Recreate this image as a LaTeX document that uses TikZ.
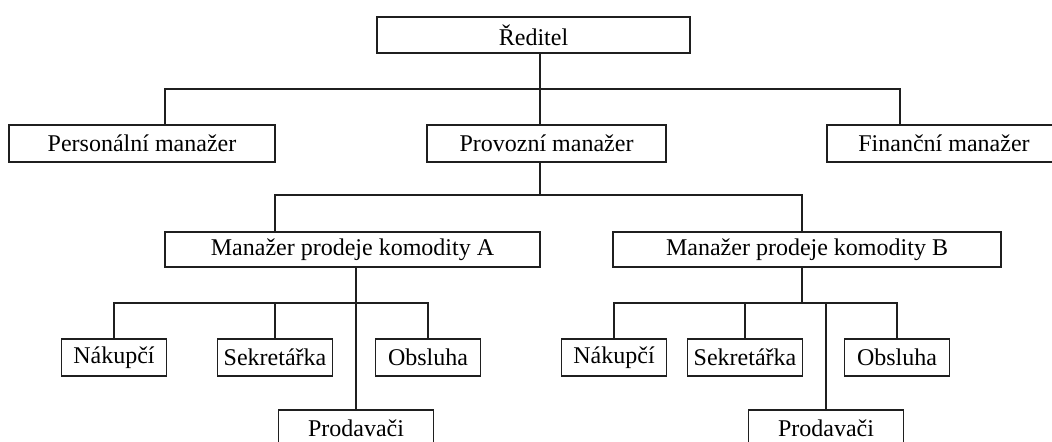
\documentclass[tikz,border=0pt]{standalone}
\usepackage{fontspec}
\setmainfont{Liberation Serif}
\begin{document}
\begin{tikzpicture}[x=0.5pt,y=-0.5pt,
  bx/.style n args={2}{draw=black!88, line width=0.85pt, fill=white, inner sep=0pt,
     minimum width=#1*0.5pt, minimum height=#2*0.5pt, font=\fontsize{12}{14}\selectfont},
  ln/.style={draw=black!88, line width=0.85pt}]
\clip (0,0) rectangle (1052,441);
\fill[white] (0,0) rectangle (1052,441);
% nodes
\node[bx={313}{36}] (red)  at (533.5,35)   {Ředitel};
\node[bx={266}{37}] (pers) at (142,143.5)  {Personální manažer};
\node[bx={239}{37}] (prov) at (546.5,143.5){Provozní manažer};
\node[bx={234}{37}] (fin)  at (944,143.5)  {Finanční manažer};
\node[bx={375}{35}] (mA)   at (352.5,249.5){Manažer prodeje komodity A};
\node[bx={388}{35}] (mB)   at (807,249.5)  {Manažer prodeje komodity B};
\node[bx={105}{37}] (nA)   at (114,357.5)  {Nákupčí};
\node[bx={115}{37}] (sA)   at (275,357.5)  {Sekretářka};
\node[bx={105}{37}] (oA)   at (428,357.5)  {Obsluha};
\node[bx={155}{37}] (pA)   at (356,428.5)  {Prodavači};
\node[bx={105}{37}] (nB)   at (614,357.5)  {Nákupčí};
\node[bx={115}{37}] (sB)   at (745,357.5)  {Sekretářka};
\node[bx={105}{37}] (oB)   at (897,357.5)  {Obsluha};
\node[bx={155}{37}] (pB)   at (826,428.5)  {Prodavači};
% junctions
\coordinate (j1L) at (165,89);
\coordinate (j1C) at (540,89);
\coordinate (j1R) at (900,89);
\coordinate (j2L) at (275,195);
\coordinate (j2C) at (540,195);
\coordinate (j2R) at (802,195);
\coordinate (j3A) at (356,303);
\coordinate (j3B) at (802,303);
\coordinate (j3Bp) at (826,303);
% connectors level 1
\draw[ln] (red.south -| j1C) -- (prov.north -| j1C);
\draw[ln] (pers.north -| j1L) -- (j1L) -- (j1R) -- (fin.north -| j1R);
% level 2
\draw[ln] (prov.south -| j2C) -- (j2C);
\draw[ln] (mA.north -| j2L) -- (j2L) -- (j2R) -- (mB.north -| j2R);
% level 3 A
\draw[ln] (mA.south -| j3A) -- (pA.north -| j3A);
\draw[ln] (nA.north) -- (nA.north |- j3A) -- (oA.north |- j3A) -- (oA.north);
\draw[ln] (sA.north) -- (sA.north |- j3A);
% level 3 B
\draw[ln] (mB.south -| j3B) -- (j3B);
\draw[ln] (nB.north) -- (nB.north |- j3B) -- (oB.north |- j3B) -- (oB.north);
\draw[ln] (sB.north) -- (sB.north |- j3B);
\draw[ln] (j3Bp) -- (pB.north -| j3Bp);
\end{tikzpicture}
\end{document}
